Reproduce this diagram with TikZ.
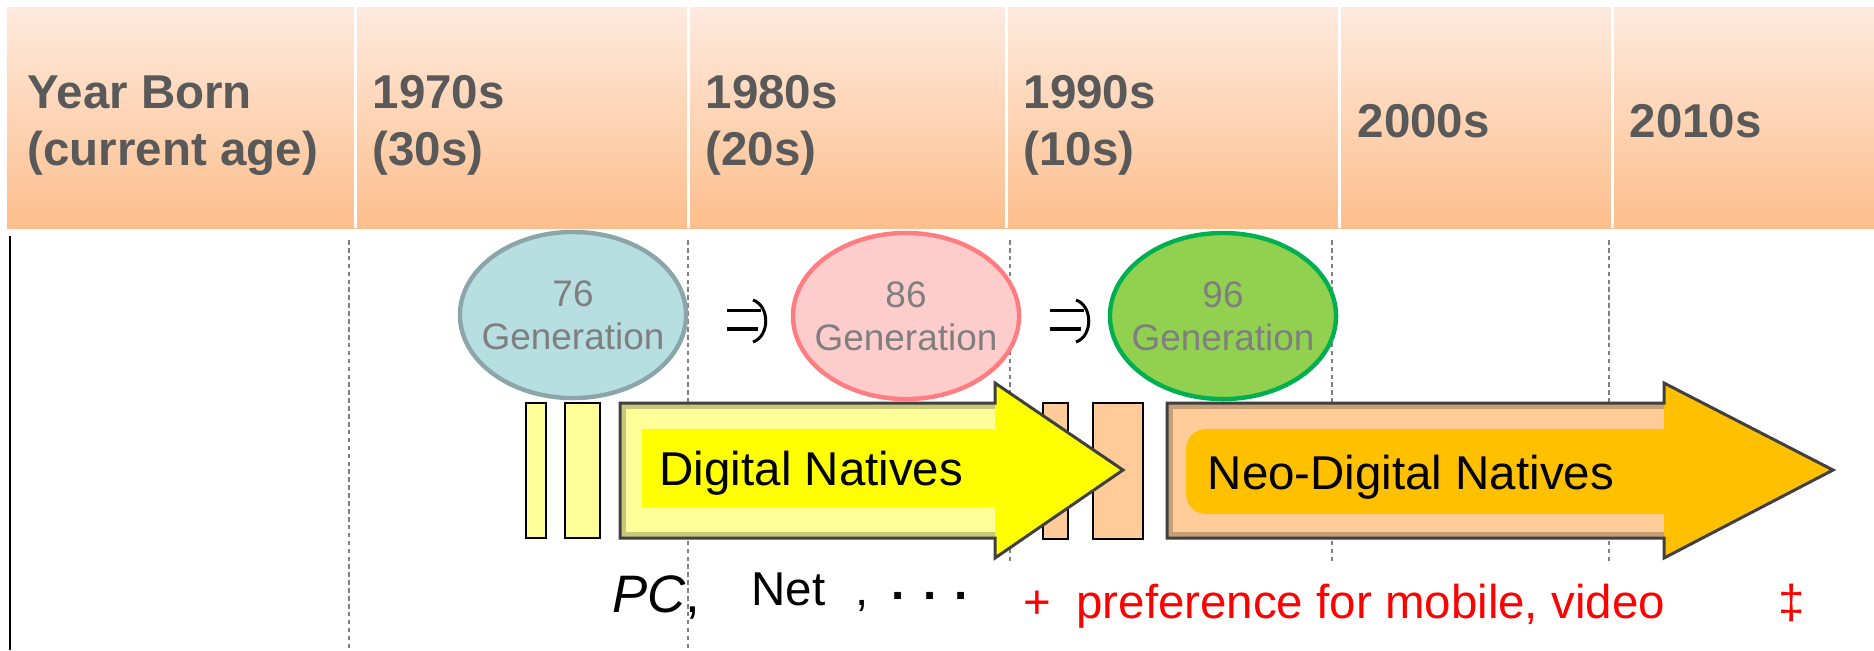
\documentclass[tikz,border=0pt]{standalone}
\usepackage{fontspec}
\setmainfont{Liberation Sans}
\usetikzlibrary{shapes.geometric}

\definecolor{hdrtop}{RGB}{254,234,222}
\definecolor{hdrbot}{RGB}{253,190,140}
\definecolor{hdrgrey}{RGB}{89,89,89}
\definecolor{gengrey}{RGB}{127,127,127}
\definecolor{guidegrey}{RGB}{128,128,128}
\definecolor{tealfill}{RGB}{183,222,224}
\definecolor{tealline}{RGB}{139,165,168}
\definecolor{pinkfill}{RGB}{255,204,204}
\definecolor{pinkline}{RGB}{255,124,128}
\definecolor{greenfill}{RGB}{146,208,80}
\definecolor{greenline}{RGB}{0,176,80}
\definecolor{paleyellow}{RGB}{255,255,153}
\definecolor{brightyellow}{RGB}{255,255,0}
\definecolor{peach}{RGB}{255,204,153}
\definecolor{gold}{RGB}{255,192,0}
\definecolor{outlinegrey}{RGB}{64,64,64}

% block arrow outlines
\newcommand{\dnarrowpath}{(620,403) -- (995,403) -- (995,383) -- (1123,470) -- (995,558) -- (995,538) -- (620,538) -- cycle}
\newcommand{\neoarrowpath}{(1167,403) -- (1664,403) -- (1664,383) -- (1833,470) -- (1664,558) -- (1664,538) -- (1167,538) -- cycle}

\begin{document}
\begin{tikzpicture}[x=0.01cm,y=-0.01cm,
  hdr/.style={anchor=base west, inner sep=0, text=hdrgrey,
    font=\fontsize{13.5}{16}\selectfont\bfseries},
  gen/.style={ellipse, minimum width=2.26cm, minimum height=1.66cm, inner sep=0,
    line width=1.25pt},
  gentext/.style={inner sep=0, align=center, text=gengrey,
    font=\fontsize{10.5}{12.2}\selectfont},
  guideline/.style={draw=guidegrey, line width=0.55pt, dash pattern=on 1.3pt off 0.95pt},
  barbox/.style={draw=black, line width=0.75pt},
  arrowline/.style={draw=outlinegrey, line width=0.85pt},
  bevel/.style={draw=black, draw opacity=0.22, line width=0.12cm},
  glyphline/.style={draw=black, line width=0.85pt},
  lbl/.style={anchor=base west, inner sep=0, font=\fontsize{13.5}{16}\selectfont},
  redlbl/.style={lbl, text=red}]

\useasboundingbox (0,0) rectangle (1874,650);

% header band with its column separators
\shade[top color=hdrtop, bottom color=hdrbot] (7,7) rectangle (1874,228);
\foreach \cx in {355,688,1006,1339,1612}
  \draw[white, line width=0.85pt] (\cx,7) -- (\cx,228);

\node[hdr] (h0a) at (27,108) {Year Born};
\node[hdr] (h0b) at (27,165) {(current age)};
\node[hdr] (h1a) at (372,108) {1970s};
\node[hdr] (h1b) at (372,165) {(30s)};
\node[hdr] (h2a) at (705,108) {1980s};
\node[hdr] (h2b) at (705,165) {(20s)};
\node[hdr] (h3a) at (1023,108) {1990s};
\node[hdr] (h3b) at (1023,165) {(10s)};
\node[hdr] (h4) at (1357,137) {2000s};
\node[hdr] (h5) at (1629,137) {2010s};

% decade guide lines and the left rule
\draw[guideline] (349,240) -- (349,650);
\draw[guideline] (688,240) -- (688,650);
\foreach \cx in {1010,1332,1609}
  \draw[guideline] (\cx,240) -- (\cx,562);
\draw[black, line width=0.6pt] (10,236) -- (10,650);

% generations
\node[gen, fill=tealfill, draw=tealline] (g76) at (573,315) {};
\node[gen, fill=pinkfill, draw=pinkline] (g86) at (906,316) {};
\node[gen, fill=greenfill, draw=greenline] (g96) at (1223,316) {};
\node[gentext] (g76t) at (g76.center) {76\\Generation};
\node[gentext] (g86t) at (g86.center) {86\\Generation};
\node[gentext] (g96t) at (g96.center) {96\\Generation};

% double-arrow marks between generations
\foreach \ox in {0,323} {
  \begin{scope}[shift={(\ox,0)}]
    \draw[glyphline] (727,310) -- (761,310);
    \draw[glyphline, line width=1.3pt] (727,329) -- (758,329);
    \draw[glyphline] (753,300) .. controls (770,306) and (770,336) .. (753,342);
  \end{scope}
}

% early bars
\draw[barbox, fill=paleyellow] (526,403) rectangle (546,538);
\draw[barbox, fill=paleyellow] (565,403) rectangle (600,538);
\draw[barbox, fill=peach] (1043,403) rectangle (1068,539);
\draw[barbox, fill=peach] (1093,403) rectangle (1143,539);

% Neo-Digital Natives arrow
\fill[peach] \neoarrowpath;
\fill[gold, rounded corners=0.2cm] (1186,429) rectangle (1700,514);
\fill[gold] (1664,383) -- (1833,470) -- (1664,558) -- cycle;
\begin{scope}
  \clip (1167,403) rectangle (1664,538);
  \draw[bevel] (1167,403) rectangle (1760,538);
\end{scope}
\draw[arrowline] \neoarrowpath;

% Digital Natives arrow
\fill[paleyellow] \dnarrowpath;
\fill[brightyellow] (642,429) rectangle (995,507);
\fill[brightyellow] (995,383) -- (1123,470) -- (995,558) -- cycle;
\begin{scope}
  \clip (620,403) rectangle (995,538);
  \draw[bevel] (620,403) rectangle (1090,538);
\end{scope}
\draw[arrowline] \dnarrowpath;

\node[lbl] (dn) at (659,485) {Digital Natives};
\node[lbl] (neo) at (1207,489) {Neo-Digital Natives};

% bottom notes
\node[lbl, font=\fontsize{15}{18}\selectfont] (pc) at (612,612) {\textit{PC},};
\node[lbl] (net) at (751,605) {Net};
\node[lbl] (etc) at (855,605) {,\hspace{0.23cm}\raisebox{0.06cm}{\textbf{.}\hspace{0.18cm}\textbf{.}\hspace{0.18cm}\textbf{.}}};
\node[redlbl] (pref) at (1023,618) {+\hspace{0.25cm}preference for mobile, video};
\node[anchor=base, inner sep=0, text=red, font=\fontsize{13.5}{16}\selectfont] (dd) at (1792,618) {‡};

\end{tikzpicture}
\end{document}
